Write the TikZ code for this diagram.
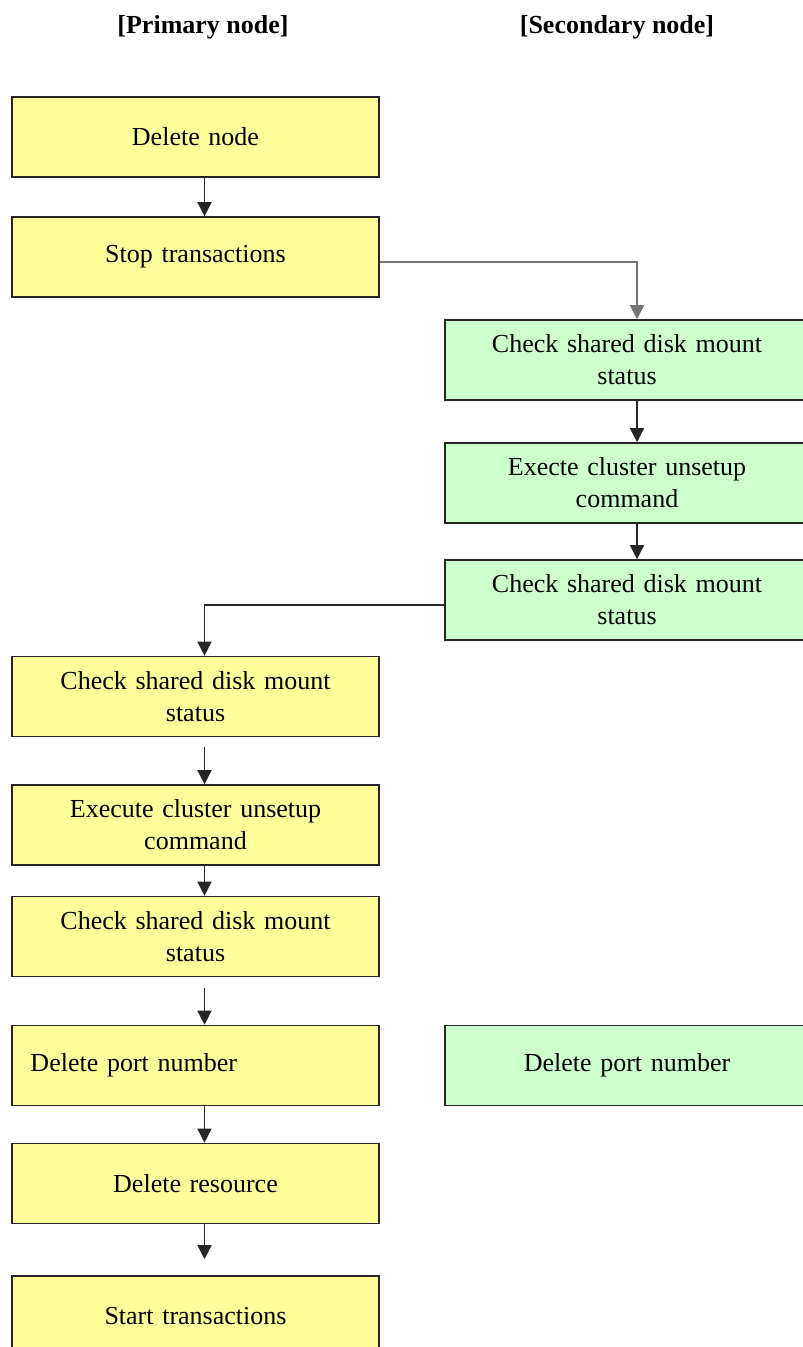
\documentclass[tikz,border=0pt]{standalone}
\usepackage{fontspec}
\setmainfont{Liberation Serif}
\usetikzlibrary{arrows.meta}
\definecolor{stepyellow}{HTML}{FFFF99}
\definecolor{stepgreen}{HTML}{CCFFCC}
\tikzset{
  prim/.style={draw=black!85, line width=1.6pt, fill=stepyellow, minimum width=367pt,
    minimum height=80pt, text width=330pt, inner xsep=18.5pt, inner ysep=2pt, align=center,
    font=\fontsize{26}{32}\selectfont},
  sec/.style={prim, fill=stepgreen, minimum width=364pt, text width=327pt},
  flow/.style={->, line width=1.5pt, black!85},
  head/.style={font=\bfseries\fontsize{26}{32}\selectfont}
}
\begin{document}
\begin{tikzpicture}[x=1pt, y=-1pt, >={Triangle[width=14pt,length=14pt]}]
      \useasboundingbox (0,0) rectangle (803,1347);
      \node[head] (hp) at (203,27) {[Primary node]};
      \node[head] (hs) at (617,27) {[Secondary node]};
      % primary side
      \node[prim] (dn) at (195.5,137) {Delete node};
      \node[prim] (st) at (195.5,257) {Stop transactions};
      \node[prim] (pc1) at (195.5,696.5) {Check shared disk mount\\status};
      \node[prim] (pe) at (195.5,825) {Execute cluster unsetup\\command};
      \node[prim] (pc2) at (195.5,936.5) {Check shared disk mount\\status};
      \node[prim, align=left] (pdp) at (195.5,1065.5) {Delete port number};
      \node[prim] (pr) at (195.5,1183.5) {Delete resource};
      \node[prim] (sta) at (195.5,1316) {Start transactions};
      % secondary side
      \node[sec] (g1) at (627,360) {Check shared disk mount\\status};
      \node[sec] (g2) at (627,483) {Execte cluster unsetup\\command};
      \node[sec] (g3) at (627,600) {Check shared disk mount\\status};
      \node[sec] (gdp) at (627,1065.5) {Delete port number};
      % connectors
      \draw[flow] ([xshift=9pt]dn.south) -- ([xshift=9pt]st.north);
      \draw[flow, black!55, line width=2pt] ([yshift=-5pt]st.east) -| ([xshift=10pt]g1.north);
      \draw[flow] ([xshift=10pt]g1.south) -- ([xshift=10pt]g2.north);
      \draw[flow] ([xshift=10pt]g2.south) -- ([xshift=10pt]g3.north);
      \draw[flow] ([yshift=-5pt]g3.west) -| ([xshift=9pt]pc1.north);
      \draw[flow] ([shift={(9pt,-10pt)}]pc1.south) -- ([xshift=9pt]pe.north);
      \draw[flow] ([xshift=9pt]pe.south) -- ([xshift=9pt]pc2.north);
      \draw[flow] ([shift={(9pt,-11pt)}]pc2.south) -- ([xshift=9pt]pdp.north);
      \draw[flow] ([xshift=9pt]pdp.south) -- ([xshift=9pt]pr.north);
      \draw[flow] ([xshift=9pt]pr.south) -- ([shift={(9pt,16pt)}]sta.north);
    \end{tikzpicture}
\end{document}
